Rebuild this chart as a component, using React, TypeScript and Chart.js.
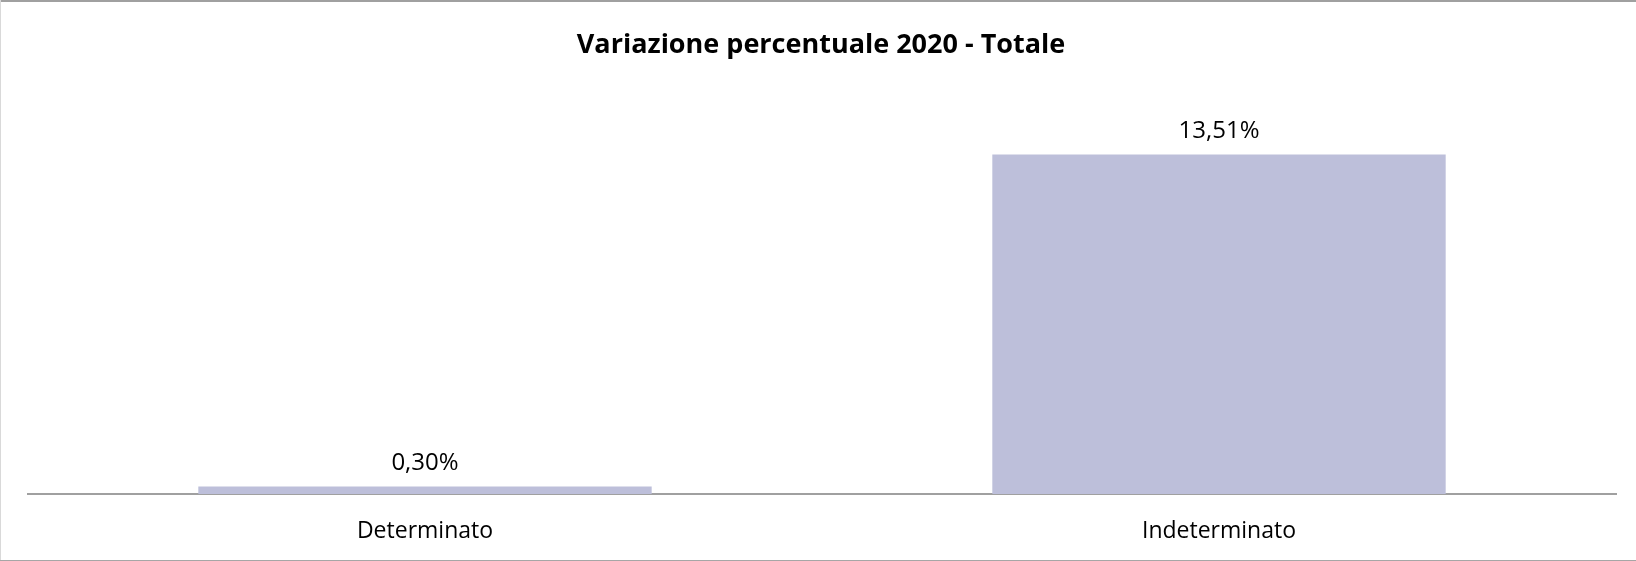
import React, { useEffect, useRef } from "react";
import { Chart, registerables } from "chart.js";

Chart.register(...registerables);

const categories = ["Determinato", "Indeterminato"];
const values = [0.3, 13.51];
const titleText = "Variazione percentuale 2020 - Totale";
const barColor = "#BDBFDA";
const yMax = 16;

const fmt = (v: number) => v.toFixed(2).replace(".", ",") + "%";

const frameAndLabels = {
  id: "frameAndLabels",
  beforeDraw(chart: any) {
    const { ctx, width, height } = chart;
    ctx.save();
    ctx.fillStyle = "#ffffff";
    ctx.fillRect(0, 0, width, height);
    ctx.restore();
  },
  afterDraw(chart: any) {
    const { ctx, width, height } = chart;
    ctx.save();
    // frame
    ctx.fillStyle = "#a0a0a0";
    ctx.fillRect(0, 0, width, 2);
    ctx.fillStyle = "#d9d9d9";
    ctx.fillRect(0, 0, 1, height);
    ctx.fillStyle = "#a6a6a6";
    ctx.fillRect(0, height - 1, width, 1);
    // title
    ctx.fillStyle = "#000000";
    ctx.font = "bold 27px 'Open Sans'";
    ctx.textAlign = "center";
    ctx.textBaseline = "middle";
    ctx.fillText(titleText, 821, 45);
    // data labels
    ctx.font = "24px 'Open Sans'";
    const meta = chart.getDatasetMeta(0);
    meta.data.forEach((bar: any, i: number) => {
      ctx.fillText(fmt(values[i]), bar.x, bar.y - 23);
    });
    ctx.restore();
  },
};

export default function App() {
  const ref = useRef<HTMLCanvasElement | null>(null);
  useEffect(() => {
    document.body.style.margin = "0";
    const canvas = ref.current!;
    const chart = new Chart(canvas, {
      type: "bar",
      data: {
        labels: categories,
        datasets: [
          {
            data: values,
            backgroundColor: barColor,
            borderWidth: 0,
            categoryPercentage: 1,
            barPercentage: 0.571,
          },
        ],
      },
      options: {
        responsive: false,
        animation: false,
        devicePixelRatio: 1,
        layout: { padding: { top: 92, left: 28, right: 20, bottom: 0 } },
        plugins: {
          legend: { display: false },
          title: { display: false },
          tooltip: { enabled: false },
        },
        scales: {
          x: {
            grid: { display: false, drawTicks: false },
            border: { display: true, color: "#a0a0a0", width: 2 },
            ticks: {
              color: "#000000",
              padding: 24,
              font: { family: "'Open Sans'", size: 23 },
            },
            afterFit: (scale: any) => {
              scale.height = 67;
            },
          },
          y: {
            display: false,
            min: 0,
            max: yMax,
          },
        },
      },
      plugins: [frameAndLabels],
    });
    return () => chart.destroy();
  }, []);
  return (
    <canvas
      ref={ref}
      width={1636}
      height={561}
      style={{ display: "block", width: 1636, height: 561 }}
    />
  );
}
